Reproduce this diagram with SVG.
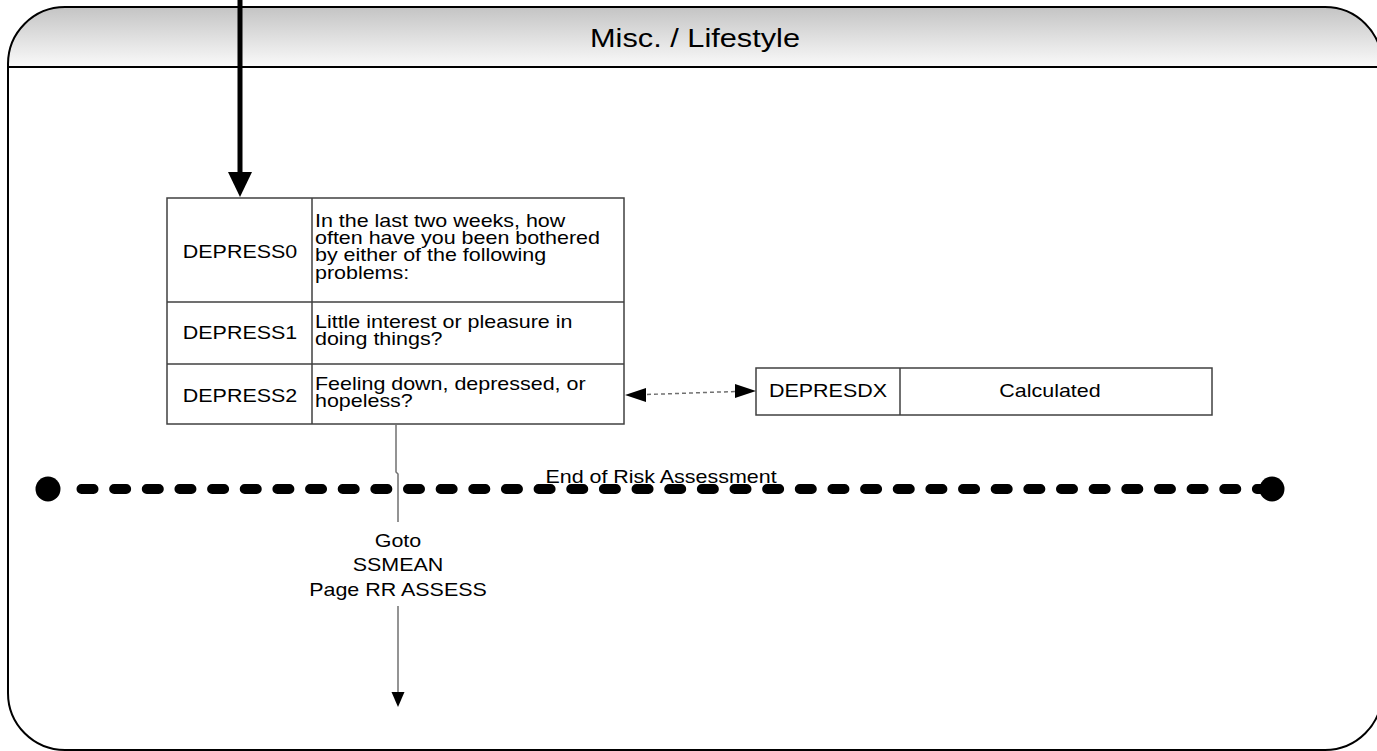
<svg xmlns="http://www.w3.org/2000/svg" width="1377" height="751" viewBox="0 0 1377 751">
<style>
.t{font-family:"Liberation Sans",Arial,sans-serif;font-size:18.5px;fill:#000}
.m{text-anchor:middle}
.box{fill:#fff;stroke:#404040;stroke-width:1.5}
.div{stroke:#404040;stroke-width:1.5;fill:none}
.conn{stroke:#707070;stroke-width:1.5;fill:none}
</style>
<defs>
<linearGradient id="hdr" x1="0" y1="0" x2="0" y2="1">
<stop offset="0" stop-color="#c4c4c4"/>
<stop offset="1" stop-color="#fafafa"/>
</linearGradient>
</defs>
<rect x="0" y="0" width="1377" height="751" fill="#fff"/>
<g id="frame">
<path d="M8,67 L8,64 A57,57 0 0 1 65,7 L1325,7 A57,57 0 0 1 1382,64 L1382,67 Z" fill="url(#hdr)" stroke="none"/>
<path d="M8,64 A57,57 0 0 1 65,7 L1325,7 A57,57 0 0 1 1382,64 L1382,693 A57,57 0 0 1 1325,750 L65,750 A57,57 0 0 1 8,693 Z" fill="none" stroke="#000" stroke-width="2"/>
<line x1="8" y1="67" x2="1382" y2="67" stroke="#000" stroke-width="2"/>
<text class="t m" transform="translate(695,47) scale(1.16,1)" style="font-size:26.5px">Misc. / Lifestyle</text>
</g>
<g id="depress">
<rect class="box" x="167" y="198" width="457" height="226"/>
<line class="div" x1="312" y1="198" x2="312" y2="424"/>
<line class="div" x1="167" y1="302" x2="624" y2="302"/>
<line class="div" x1="167" y1="364" x2="624" y2="364"/>
<text class="t m" transform="translate(240,258) scale(1.16,1)">DEPRESS0</text>
<text class="t" transform="translate(315,227) scale(1.16,1)"><tspan x="0" y="0">In the last two weeks, how</tspan><tspan x="0" y="17.2">often have you been bothered</tspan><tspan x="0" y="34.4">by either of the following</tspan><tspan x="0" y="51.6">problems:</tspan></text>
<text class="t m" transform="translate(240,339) scale(1.16,1)">DEPRESS1</text>
<text class="t" transform="translate(315,328) scale(1.16,1)"><tspan x="0" y="0">Little interest or pleasure in</tspan><tspan x="0" y="17.3">doing things?</tspan></text>
<text class="t m" transform="translate(240,402) scale(1.16,1)">DEPRESS2</text>
<text class="t" transform="translate(315,390) scale(1.16,1)"><tspan x="0" y="0">Feeling down, depressed, or</tspan><tspan x="0" y="17.3">hopeless?</tspan></text>
</g>
<g id="depresdx">
<rect class="box" x="756" y="368" width="456" height="47"/>
<line class="div" x1="900" y1="368" x2="900" y2="415"/>
<text class="t m" transform="translate(828,397) scale(1.16,1)">DEPRESDX</text>
<text class="t m" transform="translate(1050,397) scale(1.16,1)">Calculated</text>
</g>
<g id="end-of-risk">
<line x1="81.5" y1="489" x2="1262" y2="489" stroke="#000" stroke-width="10" stroke-linecap="round" stroke-dasharray="12 20.65"/>
<circle cx="48" cy="489" r="12.5" fill="#000"/>
<circle cx="1272" cy="489" r="12.5" fill="#000"/>
<text class="t m" transform="translate(661,483) scale(1.16,1)">End of Risk Assessment</text>
</g>
<g id="connectors">
<line x1="240" y1="0" x2="240" y2="174" stroke="#000" stroke-width="5"/>
<polygon points="228,172 252,172 240,197" fill="#000"/>
<path class="conn" d="M647,394.5 L735,391.5" stroke="#333" stroke-dasharray="4 3"/>
<polygon points="625,395 646,388 646,402" fill="#000"/>
<polygon points="756,391 735,384 735,398" fill="#000"/>
<path class="conn" d="M396,424 L396,472 L398,474 L398,522"/>
<text class="t m" transform="translate(398,547) scale(1.16,1)"><tspan x="0" y="0">Goto</tspan><tspan x="0" y="24.5">SSMEAN</tspan><tspan x="0" y="49">Page RR ASSESS</tspan></text>
<line class="conn" x1="398" y1="606" x2="398" y2="694"/>
<polygon points="391.5,692 404.5,692 398,707" fill="#000"/>
</g>
</svg>
